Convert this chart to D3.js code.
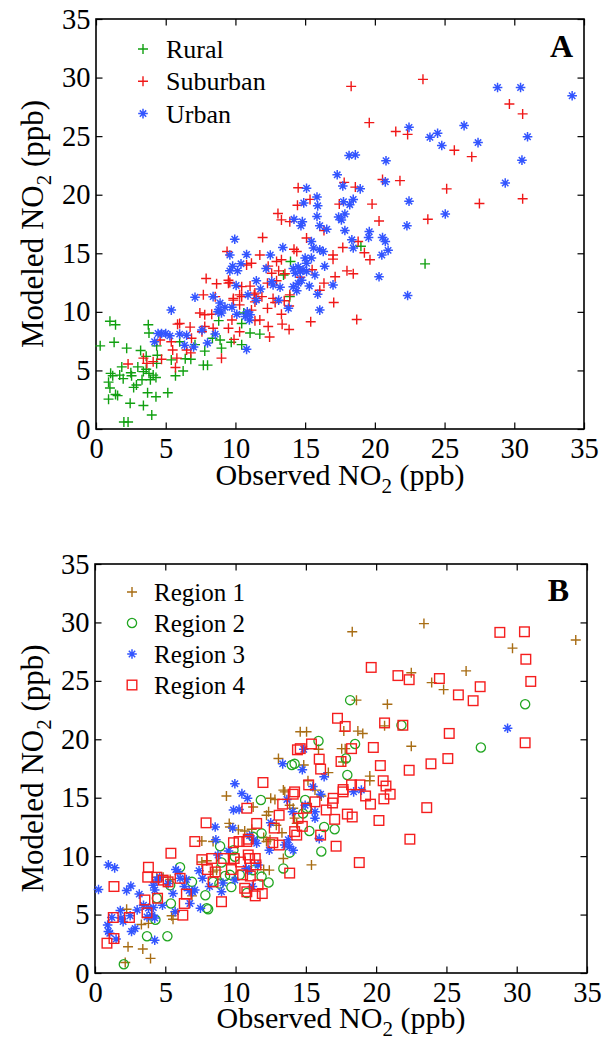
<!DOCTYPE html>
<html><head><meta charset="utf-8">
<script src="https://cdn.jsdelivr.net/npm/d3@7"></script>
<style>html,body{margin:0;padding:0;background:#fff;}svg{display:block;}</style>
</head><body><svg id="chart" width="604" height="1051"></svg>
<script>
// ---- data (observed, modeled NO2 in ppb) ----
const ticks = [0,5,10,15,20,25,30,35];
const legendA = ["Rural","Suburban","Urban"];
const legendB = ["Region 1","Region 2","Region 3","Region 4"];

const rural = [[1.0,9.2],[1.4,8.9],[0.3,7.1],[1.3,7.4],[2.2,6.9],[3.2,6.7],[3.75,8.9],[3.8,8.2],[3.6,6.2],[4.4,6.3],[4.35,5.6],[1.05,4.75],[1.2,4.55],[1.85,5.3],[1.7,4.6],[1.95,4.3],[2.5,4.8],[2.55,4.55],[3.0,5.3],[3.4,4.9],[3.6,5.1],[3.8,4.75],[4.1,4.6],[4.3,4.4],[3.9,4.2],[3.3,4.2],[2.9,3.75],[2.7,3.55],[0.9,4.0],[1.0,3.5],[1.4,2.95],[1.55,2.85],[0.9,2.55],[2.45,2.2],[3.4,2.0],[3.7,3.1],[4.3,2.75],[5.15,3.1],[4.0,1.2],[2.0,0.6],[2.3,0.6],[5.7,4.55],[6.25,4.95],[5.4,5.9],[6.4,6.0],[6.8,5.95],[7.8,6.65],[7.7,5.45],[8.0,5.45],[9.0,6.9],[8.9,7.6],[8.35,7.75],[9.7,7.4],[10.45,7.2],[10.45,9.0],[8.8,9.25],[7.1,7.2],[6.0,7.45],[4.35,7.1],[10.6,9.9],[11.05,8.2],[11.75,8.1],[13.45,13.15],[13.9,11.3],[13.95,14.3],[19.0,15.6],[23.6,14.1]];

const suburban = [[2.3,5.55],[3.4,6.05],[3.65,5.6],[4.1,5.75],[4.7,5.95],[5.7,5.25],[5.8,6.05],[5.5,6.75],[5.4,7.45],[4.6,7.6],[5.85,8.95],[6.0,9.0],[6.75,8.7],[6.5,6.75],[6.85,7.75],[6.8,6.5],[7.7,11.45],[7.45,9.9],[7.8,9.75],[8.3,9.8],[7.8,8.75],[8.4,8.6],[7.6,8.3],[9.0,6.05],[8.65,12.4],[9.5,12.45],[9.85,11.0],[10.45,11.3],[9.5,8.6],[9.9,7.65],[10.3,8.3],[9.75,9.3],
[14.5,20.6],[14.45,19.1],[15.35,19.6],[13.05,18.4],[13.3,17.85],[13.9,17.7],[16.35,16.95],[11.95,16.35],[15.1,16.3],[9.4,15.15],[11.75,14.85],[11.15,14.15],[10.8,14.0],[12.35,13.9],[12.95,14.3],[13.3,14.45],[14.2,15.35],[14.4,15.15],[12.6,13.3],[13.1,13.5],[15.5,13.6],[7.9,12.85],[9.5,12.7],[9.6,12.5],[10.45,12.15],[11.05,12.2],[12.3,12.45],[12.95,12.65],[14.65,12.95],[16.35,12.45],[16.05,11.85],[8.55,11.3],[9.85,11.15],[10.3,11.45],[11.35,11.45],[11.9,11.3],[12.7,11.15],[13.5,10.95],[13.85,10.5],[12.3,10.3],[11.4,10.85],[11.15,10.15],[13.3,9.8],[13.9,11.45],[10.3,10.6],
[13.55,13.25],[11.4,11.6],[11.5,11.15],[12.85,10.8],[11.75,9.3],[11.4,9.25],[13.35,8.95],[13.85,8.5],[12.35,8.75],[12.45,7.85],[15.4,9.15],[17.05,10.8],[17.15,13.0],[18.0,13.5],[18.45,13.25],[18.7,9.35],[19.65,14.45],[19.25,15.05],[17.0,14.85],[17.0,14.5],
[19.6,26.15],[21.5,25.4],[22.35,25.15],[20.55,21.3],[21.8,21.2],[25.15,20.5],[17.8,21.05],[18.6,20.65],[17.45,19.2],[19.8,19.2],[20.3,17.75],[23.8,17.9],[18.8,16.0],[17.7,15.5],[18.3,29.25],[23.45,29.85],[29.65,27.75],[30.6,26.9],[25.7,23.8],[26.95,23.25],[27.5,19.25],[30.6,19.65]];

const urban = [[5.4,10.15],[7.1,11.25],[8.4,11.3],[8.9,10.75],[8.8,10.2],[9.25,10.4],[9.75,10.4],[9.0,9.9],[10.05,12.25],[10.1,9.8],[4.45,8.15],[4.7,8.15],[5.0,8.15],[5.3,7.95],[4.2,7.45],[6.0,8.1],[6.5,8.0],[6.35,7.15],[7.0,7.0],[7.6,8.45],[8.0,7.35],[8.55,8.1],
[15.1,20.55],[15.85,19.8],[14.9,19.3],[15.9,19.05],[15.85,18.15],[14.2,17.9],[14.8,17.7],[14.7,17.35],[16.05,17.35],[16.55,17.05],[9.95,16.2],[15.45,16.0],[15.6,15.45],[16.05,15.3],[16.3,15.15],[13.4,15.5],[10.8,14.9],[12.5,14.85],[15.0,14.6],[15.45,14.6],[15.1,14.15],[16.4,13.9],[9.8,13.9],[10.4,14.1],[9.6,13.5],[10.15,13.5],[12.2,13.7],[14.15,13.7],[14.5,13.85],[14.85,13.6],[14.3,13.3],[14.65,13.45],[15.1,13.45],[15.7,13.15],[11.5,12.65],[12.6,12.6],[12.7,12.3],[14.15,12.15],[14.5,12.45],[14.75,12.7],[15.3,12.2],[13.2,12.1],[11.8,11.95],[14.4,11.8],[15.9,11.5],[10.9,11.45],[11.5,11.0],[13.1,11.0],[13.8,10.3],[16.05,10.15],[10.85,10.0],[11.0,9.3],[17.0,12.3],[8.75,10.0],[11.05,9.75],[10.7,9.6],[10.8,6.8],[9.6,14.85],
[22.45,25.75],[23.95,24.9],[24.5,25.25],[24.8,24.2],[18.15,23.35],[18.6,23.4],[20.8,22.9],[17.3,21.7],[17.7,20.75],[18.95,20.5],[20.75,21.1],[17.75,19.4],[18.45,19.6],[18.2,19.15],[22.45,19.45],[25.05,18.35],[17.85,18.35],[17.4,18.1],[17.6,17.85],[17.85,16.95],[19.6,16.85],[19.55,16.35],[22.3,17.35],[20.55,16.35],[20.75,16.0],[18.35,16.15],[18.45,15.45],[20.95,15.25],[20.5,14.85],[28.8,29.15],[30.45,29.15],[34.15,28.45],[30.95,24.95],[26.4,25.9],[27.4,24.45],[30.55,22.95],[29.35,21.0],[20.3,13.0],[22.35,11.4]];

const region1 = [[18.3,29.2],[23.4,29.9],[29.7,27.8],[34.2,28.5],[22.5,25.7],[23.95,24.85],[24.8,24.25],[26.4,25.85],[18.6,23.35],[20.8,23.0],[20.6,21.15],[22.5,19.4],[14.6,20.65],[15.05,20.65],[17.7,20.7],[18.7,20.7],[19.05,20.5],[15.9,19.15],[17.55,19.2],[17.8,19.2],[14.85,17.8],[17.65,18.05],[16.6,17.15],[19.55,16.85],[19.55,16.45],[15.15,16.45],[15.4,9.25],[15.65,15.65],[16.1,15.15],
[2.15,0.9],[2.35,2.25],[3.4,2.05],[3.95,1.25],[2.25,5.45],[3.3,4.15],[3.8,4.25],[4.4,8.2],[4.85,8.2],[5.35,8.0],[5.45,4.9],[5.55,4.6],[6.9,6.6],[7.6,11.3],[8.4,11.25],[7.6,9.5],[7.95,9.6],[8.4,8.65],[8.65,8.8],[9.35,15.15],[9.55,12.8],[9.6,12.5],[10.2,12.25],[10.65,12.15],[11.15,12.3],[11.25,14.2],[12.0,8.85],[12.4,8.8],[13.4,9.8],[12.0,11.6],[12.2,11.25],[12.45,11.4],[12.5,14.95],[12.8,14.85],[12.2,13.5],[12.35,13.8],[12.9,12.65],[13.3,12.0],[13.5,15.5],[13.85,14.35],[14.1,14.1],[14.2,13.25],[14.35,12.8],[13.05,18.35],[13.4,15.65]];

const region2 = [[18.15,23.35],[21.8,21.2],[30.6,23.0],[27.45,19.3],[15.9,19.85],[18.5,19.6],[17.85,18.35],[17.95,16.95],[16.1,10.4],[16.3,12.5],[17.05,12.3],[15.25,12.15],[14.95,14.8],[15.05,14.1],[14.8,13.65],
[2.05,0.75],[3.7,3.15],[5.15,3.15],[4.3,4.55],[4.4,6.4],[5.4,5.95],[5.35,7.5],[6.05,9.05],[6.9,7.8],[7.85,6.65],[7.95,5.55],[8.05,5.45],[8.4,7.8],[8.85,7.65],[8.9,10.85],[9.0,9.45],[9.25,8.3],[9.6,8.4],[9.7,7.35],[9.85,10.5],[9.95,9.95],[10.3,8.4],[10.8,6.85],[11.25,8.8],[11.25,11.65],[11.85,11.95],[11.85,8.25],[12.35,7.75],[11.8,14.8],[13.4,8.95],[13.85,10.3],[14.0,17.8],[14.2,17.9]];

const region3 = [[29.35,20.95],[14.85,19.15],[14.75,17.4],[16.3,16.8],[15.5,15.95],[15.95,11.5],[15.65,13.8],[15.65,13.25],[14.95,14.35],[18.4,15.5],[18.95,15.65],[16.05,15.3],
[0.25,7.15],[0.95,9.25],[1.4,9.0],[2.25,7.05],[2.55,7.45],[3.15,6.75],[0.9,4.1],[0.95,3.55],[1.05,3.4],[1.5,2.9],[1.2,4.75],[1.8,5.35],[1.85,4.7],[2.0,4.4],[2.5,4.9],[2.6,3.55],[2.85,3.8],[3.0,5.4],[3.45,5.8],[3.8,5.55],[4.15,5.6],[4.05,4.95],[3.7,4.8],[4.25,4.7],[4.25,2.8],[4.15,7.5],[4.25,7.1],[4.4,7.95],[4.6,8.2],[5.2,7.65],[4.8,5.8],[5.55,6.8],[5.7,5.25],[5.75,8.85],[5.9,8.65],[6.05,8.1],[6.5,8.0],[6.35,7.4],[6.7,7.05],[6.95,6.95],[7.1,7.1],[6.75,5.95],[7.4,8.75],[7.65,8.1],[7.5,5.55],[8.15,7.4],[8.55,12.5],[8.6,11.4],[8.75,10.1],[9.0,6.95],[9.1,7.7],[9.5,10.45],[9.85,13.95],[10.25,14.0],[10.85,14.95],[9.8,12.4],[11.0,11.75],[11.3,11.4],[11.5,11.1],[9.95,7.95],[10.75,8.95],[10.95,8.8],[11.2,7.4],[11.6,9.25],[12.4,10.5],[12.5,12.85],[13.65,14.85],[13.5,10.95],[13.75,11.4],[13.85,10.8],[14.05,13.8],[14.1,10.5],[10.45,15.35],[13.35,17.9],[9.95,16.2]];

const region4 = [[28.8,29.15],[30.55,29.2],[30.65,26.85],[31.0,24.95],[19.65,26.15],[21.55,25.45],[22.35,25.1],[24.5,25.2],[27.4,24.5],[25.85,23.8],[26.9,23.3],[30.6,19.7],[25.2,20.5],[25.1,18.35],[23.9,17.9],[22.35,17.35],[17.25,21.8],[17.8,21.1],[20.6,21.4],[21.9,21.2],[15.4,19.6],[18.25,19.2],[19.8,19.3],[15.95,18.3],[16.05,17.45],[17.5,18.1],[20.3,17.75],[20.5,16.45],[20.7,16.0],[18.25,16.1],[18.85,16.1],[17.65,15.7],[15.2,16.1],[14.6,19.2],
[23.6,14.15],[22.4,11.45],[18.8,9.45],[20.2,13.05],[20.55,14.9],[21.0,15.3],[19.6,14.45],[19.25,15.15],[17.95,13.6],[18.3,13.35],[17.05,13.15],[16.45,13.95],[17.15,10.85],[16.05,11.8],[16.95,14.95],[16.9,14.55],[17.65,15.5],[15.65,14.65],[15.05,14.1],[14.75,12.55],
[0.85,2.55],[1.35,2.95],[1.3,4.75],[1.35,7.4],[2.45,4.75],[3.55,6.25],[3.7,5.15],[3.8,9.05],[3.75,8.2],[4.4,8.2],[4.45,6.4],[4.85,7.95],[5.2,7.8],[5.4,10.25],[6.05,8.1],[6.35,5.95],[6.25,4.95],[6.5,6.75],[7.1,11.25],[7.6,9.7],[7.9,12.85],[8.0,8.85],[8.3,9.8],[8.4,7.8],[8.55,8.65],[9.0,6.1],[9.15,9.8],[9.7,8.85],[9.85,11.15],[9.9,9.8],[10.25,11.25],[10.35,9.5],[10.5,8.4],[10.8,14.1],[10.8,11.25],[10.9,11.45],[10.9,10.1],[11.0,9.8],[10.65,7.25],[10.8,6.95],[11.05,8.3],[11.4,6.6],[11.5,12.8],[11.4,9.8],[11.45,9.25],[11.6,7.55],[11.9,6.8],[12.65,11.15],[12.75,12.4],[13.1,10.95],[13.1,13.5],[13.35,14.45],[13.85,8.55],[14.1,15.3],[14.2,12.1],[14.35,11.8],[14.45,13.25],[14.4,19.1],[11.95,16.3],[14.2,15.5]];

// ---- drawing ----
const svg = d3.select("#chart");
const FONT = "'Liberation Serif','Times New Roman',Times,serif";

const SYM = {
  plus: "M-5,0H5M0,-5V5",
  star: "M-4.8,0H4.8M0,-4.8V4.8M-3.2,-3.2L3.2,3.2M-3.2,3.2L3.2,-3.2"
};

function drawMarker(g, type, color) {
  if (type === "plus" || type === "star") {
    g.append("path").attr("d", SYM[type]).attr("fill", "none")
      .attr("stroke", color).attr("stroke-width", type === "star" ? 1.5 : 1.4);
  } else if (type === "circle") {
    g.append("circle").attr("r", 4.6).attr("fill", "none")
      .attr("stroke", color).attr("stroke-width", 1.3);
  } else if (type === "square") {
    g.append("rect").attr("x", -4.8).attr("y", -4.8).attr("width", 9.6).attr("height", 9.6)
      .attr("fill", "none").attr("stroke", color).attr("stroke-width", 1.4);
  }
}

function panel(opt) {
  const {left, right, top, bottom, series, label, labelX, labelY, xLabelY,
         legX, legTextX, legY0, legDy, legFont} = opt;
  const x = d3.scaleLinear().domain([0, 35]).range([left, right]);
  const y = d3.scaleLinear().domain([0, 35]).range([bottom, top]);
  const g = svg.append("g");

  // axes with inward ticks
  const ax = [
    [d3.axisBottom(x), bottom, "x", true],
    [d3.axisTop(x), top, "x", false],
    [d3.axisLeft(y), left, "y", true],
    [d3.axisRight(y), right, "y", false]
  ];
  ax.forEach(([axis, pos, dir, labels]) => {
    axis.tickValues(ticks).tickSize(-6.5).tickPadding(dir === "x" ? 9 : 5.5)
      .tickFormat(labels ? d3.format("d") : "");
    const a = g.append("g")
      .attr("transform", dir === "x" ? `translate(0,${pos})` : `translate(${pos},0)`)
      .call(axis);
    a.select(".domain").remove();
    a.selectAll(".tick line").attr("stroke", "#000").attr("stroke-width", 1.2);
    a.selectAll(".tick text").attr("font-family", FONT).attr("font-size", 28.5).attr("fill", "#000");
  });
  g.append("rect").attr("x", left).attr("y", top)
    .attr("width", right - left).attr("height", bottom - top)
    .attr("fill", "none").attr("stroke", "#000").attr("stroke-width", 1.6);

  // points
  series.forEach(s => {
    const sg = g.append("g");
    s.data.forEach(d => {
      const m = sg.append("g").attr("transform", `translate(${x(d[0])},${y(d[1])})`);
      drawMarker(m, s.type, s.color);
    });
  });

  // legend
  series.forEach((s, i) => {
    const yy = legY0 + i * legDy;
    const m = g.append("g").attr("transform", `translate(${legX},${yy})`);
    drawMarker(m, s.type, s.color);
    g.append("text").attr("x", legTextX).attr("y", yy + 9)
      .attr("font-family", FONT).attr("font-size", legFont).attr("fill", "#000").text(s.name);
  });

  // panel letter
  g.append("text").attr("x", labelX).attr("y", labelY).attr("text-anchor", "end")
    .attr("font-family", FONT).attr("font-weight", "bold").attr("font-size", 32).text(label);

  // axis titles
  const xt = g.append("text").attr("x", (left + right) / 2).attr("y", xLabelY)
    .attr("text-anchor", "middle").attr("font-family", FONT).attr("font-size", 30);
  xt.append("tspan").text("Observed NO");
  xt.append("tspan").attr("font-size", 21).attr("dy", 8).text("2");
  xt.append("tspan").attr("dy", -8).text(" (ppb)");

  const yt = g.append("text")
    .attr("transform", `translate(43,${(top + bottom) / 2}) rotate(-90)`)
    .attr("text-anchor", "middle").attr("font-family", FONT).attr("font-size", 31);
  yt.append("tspan").text("Modeled NO");
  yt.append("tspan").attr("font-size", 21).attr("dy", 8).text("2");
  yt.append("tspan").attr("dy", -8).text(" (ppb)");
}

panel({
  left: 96, right: 584, top: 19, bottom: 429,
  series: [
    {name: legendA[0], data: rural, type: "plus", color: "#11a011"},
    {name: legendA[1], data: suburban, type: "plus", color: "#f01818"},
    {name: legendA[2], data: urban, type: "star", color: "#3355ff"}
  ],
  label: "A", labelX: 573, labelY: 57, xLabelY: 485,
  legX: 143, legTextX: 166, legY0: 49, legDy: 32.3, legFont: 26
});

panel({
  left: 95, right: 587, top: 564, bottom: 973,
  series: [
    {name: legendB[0], data: region1, type: "plus", color: "#a86d14"},
    {name: legendB[1], data: region2, type: "circle", color: "#22a622"},
    {name: legendB[2], data: region3, type: "star", color: "#3355ff"},
    {name: legendB[3], data: region4, type: "square", color: "#f51e1e"}
  ],
  label: "B", labelX: 569, labelY: 601, xLabelY: 1028,
  legX: 132, legTextX: 154, legY0: 592, legDy: 31, legFont: 25
});
</script></body></html>
